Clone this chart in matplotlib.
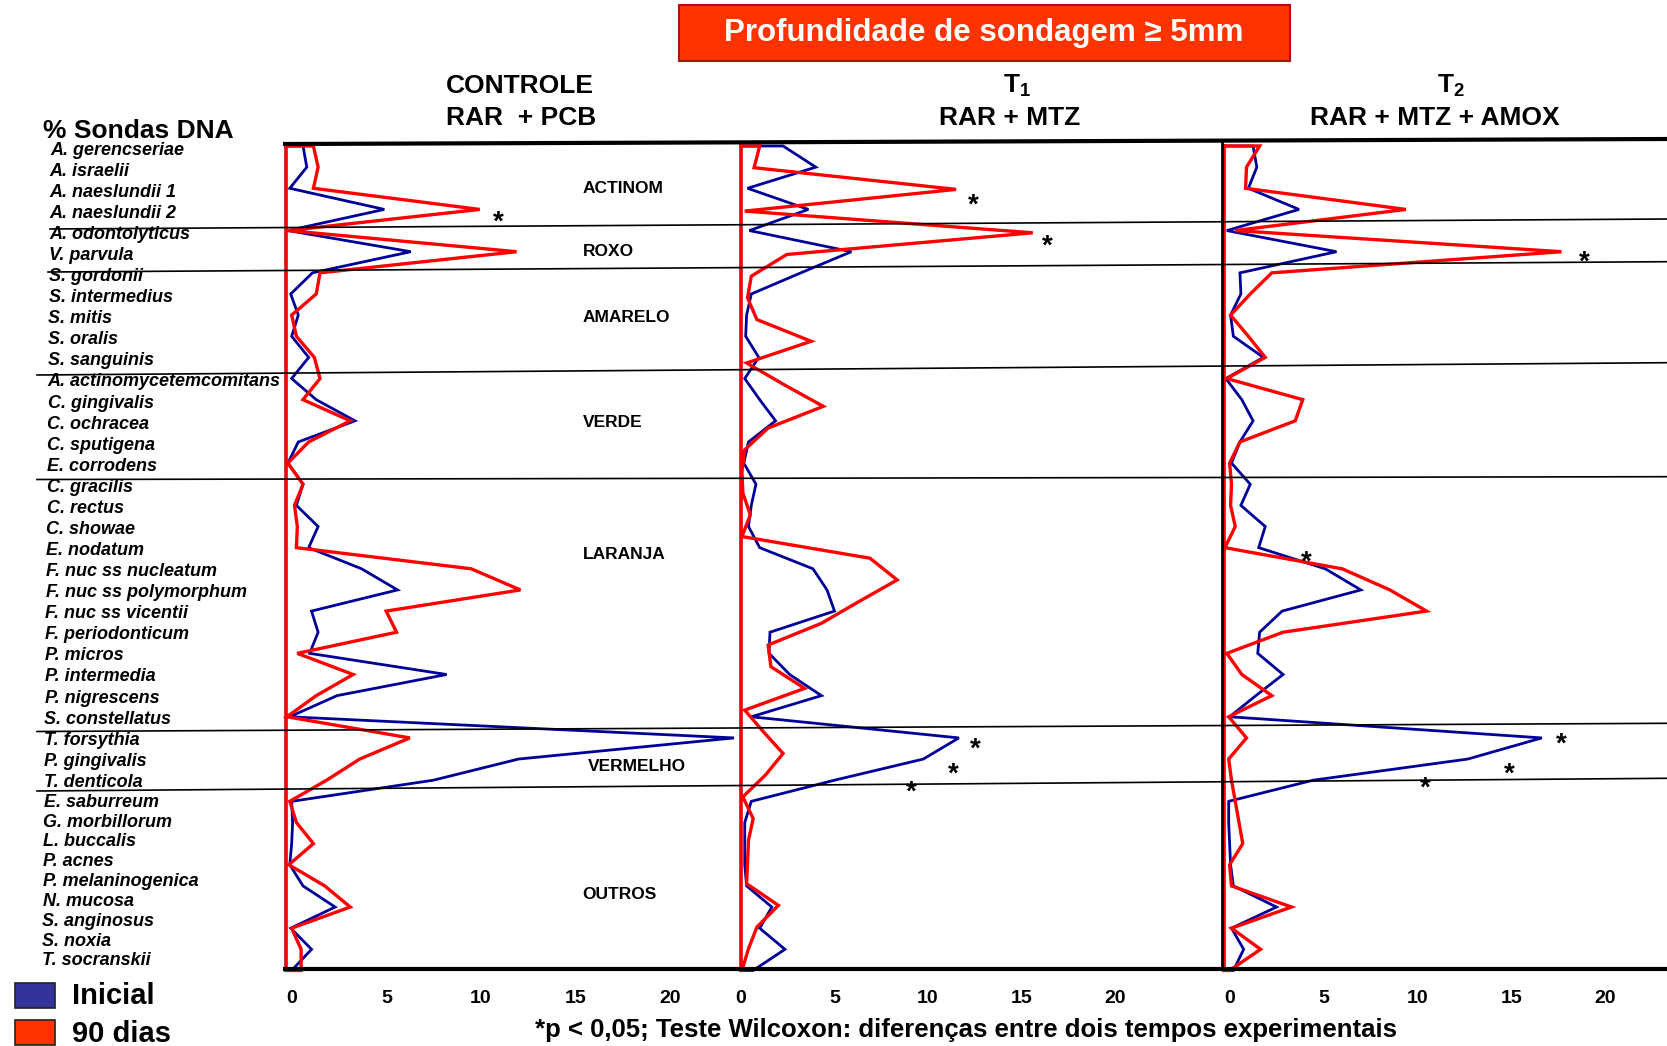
import matplotlib
matplotlib.use('Agg')
import matplotlib.pyplot as plt
import numpy as np
from matplotlib.lines import Line2D
from matplotlib.patches import Rectangle
from matplotlib.transforms import blended_transform_factory, ScaledTranslation

plt.rcParams['font.family'] = ['Liberation Sans', 'DejaVu Sans']
plt.rcParams['font.weight'] = 'bold'
plt.rcParams['mathtext.fontset'] = 'custom'
plt.rcParams['mathtext.rm'] = 'Liberation Sans:bold'
plt.rcParams['mathtext.bf'] = 'Liberation Sans:bold'

species = ['A. gerencseriae', 'A. israelii', 'A. naeslundii 1', 'A. naeslundii 2',
           'A. odontolyticus', 'V. parvula', 'S. gordonii', 'S. intermedius',
           'S. mitis', 'S. oralis', 'S. sanguinis', 'A. actinomycetemcomitans',
           'C. gingivalis', 'C. ochracea', 'C. sputigena', 'E. corrodens',
           'C. gracilis', 'C. rectus', 'C. showae', 'E. nodatum',
           'F. nuc ss nucleatum', 'F. nuc ss polymorphum', 'F. nuc ss vicentii',
           'F. periodonticum', 'P. micros', 'P. intermedia', 'P. nigrescens',
           'S. constellatus', 'T. forsythia', 'P. gingivalis', 'T. denticola',
           'E. saburreum', 'G. morbillorum', 'L. buccalis', 'P. acnes',
           'P. melaninogenica', 'N. mucosa', 'S. anginosus', 'S. noxia',
           'T. socranskii']

groups = ['ACTINOM', 'ROXO', 'AMARELO', 'VERDE', 'LARANJA', 'VERMELHO', 'OUTROS']
group_rows = [2.0, 5.0, 8.1, 13.1, 19.3, 29.35, 35.4]

# % of DNA probes, initial (blue) and 90 days (red)
controle_inicial = [0.9, 1.1, 0.2, 5.2, 0.1, 6.6, 1.4, 0.25, 0.65, 0.3,
                    1.2, 0.3, 1.6, 3.65, 0.65, 0.1, 0.9, 0.55, 1.7, 1.2,
                    4.0, 5.9, 1.35, 1.7, 1.25, 8.5, 2.7, 0.2, 23.7, 12.3,
                    7.8, 0.3, 0.35, 0.3, 0.2, 0.9, 2.6, 0.25, 1.35, 0.3]
controle_90 = [1.45, 1.7, 1.45, 10.25, 0.1, 12.2, 1.8, 1.6, 0.3, 0.55,
               1.5, 1.8, 0.9, 3.4, 1.2, 0.1, 0.9, 0.45, 0.6, 0.55,
               9.8, 12.4, 5.3, 5.85, 0.6, 3.55, 1.6, 0.05, 6.55, 3.9,
               2.15, 0.2, 0.55, 1.45, 0.15, 2.05, 3.4, 0.3, 0.8, 0.8]
t1_inicial = [2.25, 4.0, 0.35, 3.6, 0.45, 5.9, 3.2, 0.55, 0.3, 0.25,
              0.95, 0.2, 1.0, 1.85, 0.4, 0.15, 0.8, 0.55, 0.4, 1.0,
              3.85, 4.6, 5.0, 1.55, 1.5, 2.6, 4.3, 0.55, 11.65, 9.75,
              5.0, 0.55, 0.2, 0.2, 0.2, 0.3, 1.65, 1.0, 2.35, 0.65]
# the 90-day T1 curve in the original only has 39 points stretched over the same height
t1_90 = [1.0, 0.7, 11.5, 0.2, 15.6, 2.45, 0.55, 0.35, 0.85, 3.75,
         0.3, 2.3, 4.4, 1.45, 0.2, 0.05, 0.1, 0.5, 0.05, 6.9,
         8.35, 6.3, 4.3, 1.45, 1.6, 3.4, 0.2, 1.2, 2.25, 1.3,
         0.1, 0.65, 0.4, 0.35, 0.3, 2.0, 0.85, 0.4, 0.05]
t2_inicial = [1.55, 1.75, 1.3, 4.0, 0.15, 6.0, 0.85, 0.9, 0.35, 0.5,
              2.1, 0.1, 0.95, 1.55, 0.85, 0.4, 1.4, 0.9, 2.2, 1.85,
              5.4, 7.3, 3.1, 1.9, 1.8, 3.15, 1.7, 0.3, 16.95, 13.0,
              4.75, 0.25, 0.25, 0.3, 0.35, 0.5, 2.8, 0.4, 1.05, 0.5]
t2_90 = [1.9, 1.2, 1.15, 9.7, 0.6, 18.0, 2.55, 1.4, 0.35, 1.3,
         2.2, 0.15, 4.2, 3.8, 0.85, 0.3, 0.4, 0.35, 0.6, 0.05,
         6.3, 8.85, 10.8, 3.15, 0.15, 0.95, 2.55, 0.25, 1.2, 0.25,
         0.4, 0.6, 0.8, 1.0, 0.3, 0.4, 3.6, 0.4, 1.95, 0.3]

# significance marks (x value, row)
sig_controle = [(11.25, 3.2)]
sig_t1 = [(12.4, 2.4), (16.4, 4.35), (12.55, 28.15), (11.35, 29.3), (9.1, 30.15)]
sig_t2 = [(19.2, 5.1), (4.4, 19.3), (18.0, 27.9), (15.2, 29.3), (10.75, 29.95)]

ticks = [0, 5, 10, 15, 20]

BLUE = '#000099'
RED = '#FF0000'
W, H = 1667, 1046


def fx(px):
    return px / W


def fy(py):
    return 1 - py / H


fig = plt.figure(figsize=(W / 100, H / 100), dpi=100)

top_px, bot_px = 143, 975
row0_px, row_step = 146, 21.14
ylim = (39 + (bot_px - (row0_px + 39 * row_step)) / row_step, -(row0_px - top_px) / row_step)

# left px, right px, px of zero, px per unit, label shift
panel_specs = [(286, 740, 286, 18.9, 6), (741, 1222, 741, 18.7, 0), (1222, 1667, 1224, 18.75, 6)]
data = [(controle_inicial, controle_90), (t1_inicial, t1_90), (t2_inicial, t2_90)]
sigs = [sig_controle, sig_t1, sig_t2]

axes = []
for (left, right, zero, ppu, shift), (blue, red), sig in zip(panel_specs, data, sigs):
    ax = fig.add_axes([fx(left), fy(bot_px), (right - left) / W, (bot_px - top_px) / H])
    ax.set_xlim((left - zero) / ppu, (right - zero) / ppu)
    ax.set_ylim(*ylim)
    for vals, col, lw in [(blue, BLUE, 2.0), (red, RED, 2.4)]:
        n = len(vals)
        pos = np.linspace(0, 39, n)
        xs = [0] + list(vals) + [0, 0]
        ys = [pos[0]] + list(pos) + [pos[-1], pos[0]]
        ax.plot(xs, ys, color=col, lw=lw, clip_on=False, solid_joinstyle='miter')
    for sx, sr in sig:
        ax.annotate('*', (sx, sr), xytext=(0, -16), textcoords='offset pixels',
                    ha='center', va='baseline', fontsize=20, fontweight='bold')
    for s in ax.spines.values():
        s.set_visible(False)
    ax.set_yticks([])
    ax.set_xticks(ticks)
    ax.set_xticklabels([str(t) for t in ticks], fontsize=14, fontweight='bold')
    ax.tick_params(axis='x', length=0, pad=11)
    off = ScaledTranslation(shift / 100, 0, fig.dpi_scale_trans)
    for lbl in ax.get_xticklabels():
        lbl.set_transform(lbl.get_transform() + off)
    ax.patch.set_visible(False)
    axes.append(ax)

axes[2].spines['left'].set_visible(True)
axes[2].spines['left'].set_linewidth(2)
axes[2].spines['left'].set_bounds(ylim[1], (968.5 - row0_px) / row_step)

ax1 = axes[0]
for g, r in zip(groups, group_rows):
    gx = 15.95 if g == 'VERMELHO' else 15.7
    ax1.text(gx, r, g, ha='left', va='center', fontsize=12.5, fontweight='bold')

# species names
rows = np.arange(len(species))
label_rows = np.interp(rows, [0, 30, 39], [0.2, 30.1, 38.55])
tr = blended_transform_factory(fig.transFigure, ax1.transData)
for i, (name, lr) in enumerate(zip(species, label_rows)):
    ax1.text(fx(50 - 8 * i / 39), lr, name, transform=tr, ha='left', va='center',
             fontsize=13, fontweight='bold', style='italic')

# frame lines and group separators (drawn by hand in the original, slightly tilted)
fig_lines = [((285, 1667), (144, 139), 3.0),
             ((285, 1667), (968.5, 968.5), 3.0),
             ((50, 1667), (229, 219), 1.2),
             ((48, 1667), (272, 261.7), 1.2),
             ((37, 1667), (375, 362.7), 1.2),
             ((37, 1667), (479.5, 476.7), 1.2),
             ((37, 1667), (731.5, 723.3), 1.2),
             ((37, 1667), (791, 778.3), 1.2)]
for (x0, x1), (y0, y1), lw in fig_lines:
    fig.add_artist(Line2D([fx(x0), fx(x1)], [fy(y0), fy(y1)], color='black', lw=lw,
                          transform=fig.transFigure))

# title box
fig.add_artist(Rectangle((fx(679), fy(61)), (1290 - 679) / W, (61 - 5) / H,
                         transform=fig.transFigure, facecolor='#FF3300',
                         edgecolor='#B01010', lw=1.5))
fig.text(fx(984), fy(33), 'Profundidade de sondagem ≥ 5mm', color='white',
         fontsize=22.5, fontweight='bold', ha='center', va='center')

fig.text(fx(446), fy(86), 'CONTROLE', fontsize=19, fontweight='bold', ha='left', va='center')
fig.text(fx(446), fy(118), 'RAR  + PCB', fontsize=19, fontweight='bold', ha='left', va='center')
fig.text(fx(1017), fy(86), r'T$_1$', fontsize=19, fontweight='bold', ha='center', va='center')
fig.text(fx(1010), fy(118), 'RAR + MTZ', fontsize=19, fontweight='bold', ha='center', va='center')
fig.text(fx(1451), fy(86), r'T$_2$', fontsize=19, fontweight='bold', ha='center', va='center')
fig.text(fx(1435), fy(118), 'RAR + MTZ + AMOX', fontsize=19, fontweight='bold', ha='center', va='center')

fig.text(fx(43), fy(131), '% Sondas DNA', fontsize=19, fontweight='bold', ha='left', va='center')

fig.text(fx(966), fy(1030), '*p < 0,05; Teste Wilcoxon: diferenças entre dois tempos experimentais',
         fontsize=18.5, fontweight='bold', ha='center', va='center')

# legend
for (y0, y1), col, txt in [((983, 1008), '#333399', 'Inicial'), ((1020, 1045), '#FF3300', '90 dias')]:
    fig.add_artist(Rectangle((fx(15), fy(y1)), 40 / W, (y1 - y0) / H, transform=fig.transFigure,
                             facecolor=col, edgecolor='#222222', lw=1.2))
    fig.text(fx(72), fy((y0 + y1) / 2 + 1), txt, fontsize=21, fontweight='bold', ha='left', va='center')

fig.savefig('out.png', dpi=100)
